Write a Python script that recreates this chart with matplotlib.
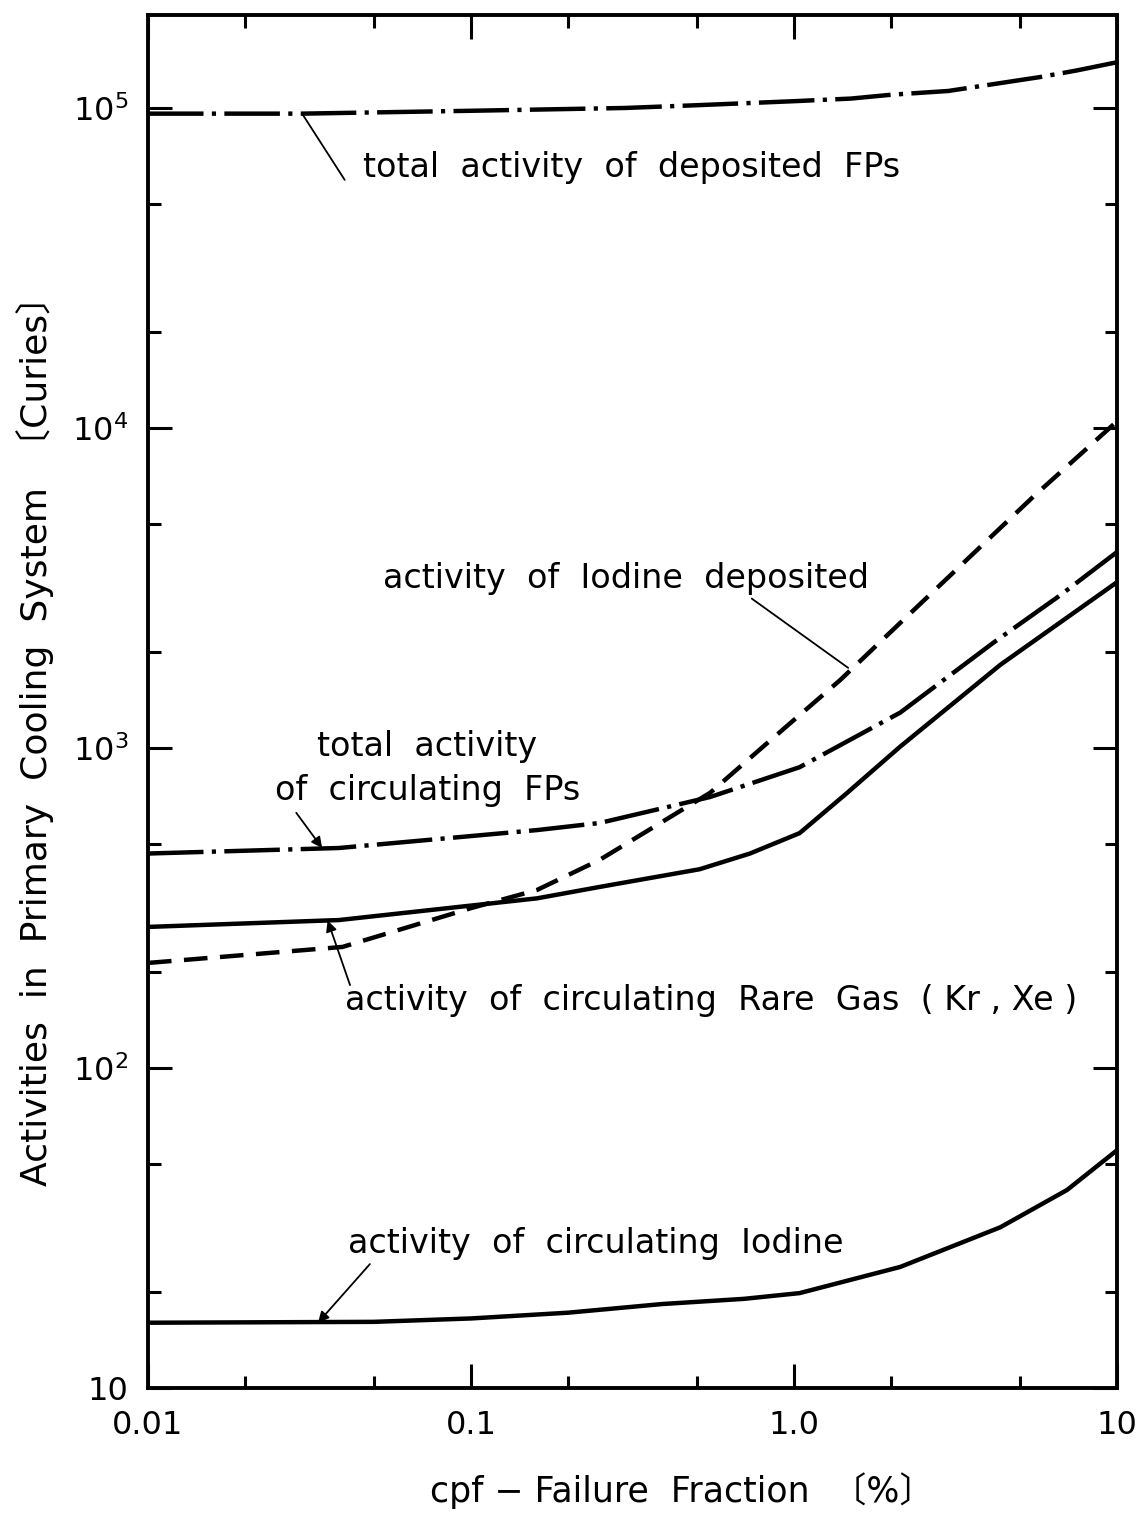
import matplotlib
matplotlib.use("Agg")
import matplotlib.pyplot as plt
from matplotlib.ticker import LogLocator, FixedLocator, FixedFormatter, NullFormatter

plt.rcParams["font.family"] = ["DejaVu Sans", "Noto Sans CJK JP"]
plt.rcParams["lines.scale_dashes"] = False

# values (cpf in %, activity in Curies)
x_dep_fp = [0.01, 0.03, 0.1, 0.3, 0.5, 1.0, 1.5, 2.0, 3.0, 5.8, 7.5, 10.0]
y_dep_fp = [9.6e4, 9.6e4, 9.8e4, 1.0e5, 1.02e5, 1.05e5, 1.07e5, 1.1e5, 1.13e5,
            1.25e5, 1.31e5, 1.39e5]

x_dep_iod = [0.01, 0.04, 0.1, 0.16, 0.25, 0.55, 0.82, 1.39, 2.13, 5.5, 10.0]
y_dep_iod = [213, 239, 316, 360, 447, 725, 1030, 1632, 2460, 6100, 10500]

x_circ_fp = [0.01, 0.039, 0.16, 0.25, 0.55, 1.04, 2.13, 4.13, 6.66, 10.0]
y_circ_fp = [468, 487, 554, 583, 703, 871, 1290, 2130, 3000, 4100]

x_rare = [0.01, 0.039, 0.16, 0.25, 0.51, 0.73, 1.04, 1.45, 2.13, 4.35, 10.0]
y_rare = [276, 290, 339, 368, 418, 468, 542, 720, 1010, 1820, 3300]

x_iod = [0.01, 0.05, 0.1, 0.2, 0.39, 0.7, 1.04, 2.13, 4.35, 7.0, 10.0]
y_iod = [16.0, 16.1, 16.5, 17.2, 18.3, 19.0, 19.8, 23.9, 31.8, 41.6, 55.4]

xtick_vals = [0.01, 0.1, 1.0, 10]
xtick_text = ["0.01", "0.1", "1.0", "10"]
ytick_vals = [10, 100, 1e3, 1e4, 1e5]
ytick_text = ["10", "$10^{2}$", "$10^{3}$", "$10^{4}$", "$10^{5}$"]

fig = plt.figure(figsize=(11.47, 15.15), dpi=100)
ax = fig.add_axes([0.129, 0.0838, 0.845, 0.9062])
ax.set_xscale("log")
ax.set_yscale("log")
ax.set_xlim(0.01, 10)
ax.set_ylim(10, 1.95e5)

lw = 3.2
dashdot = (0, (40, 6, 3, 6))
dashed = (0, (17, 9))
ax.plot(x_dep_fp, y_dep_fp, color="k", lw=lw, linestyle=dashdot)
ax.plot(x_dep_iod, y_dep_iod, color="k", lw=lw, linestyle=dashed)
ax.plot(x_circ_fp, y_circ_fp, color="k", lw=lw, linestyle=dashdot)
ax.plot(x_rare, y_rare, color="k", lw=lw, linestyle="-")
ax.plot(x_iod, y_iod, color="k", lw=lw, linestyle="-")

# ticks
ax.xaxis.set_major_locator(FixedLocator(xtick_vals))
ax.xaxis.set_major_formatter(FixedFormatter(xtick_text))
ax.xaxis.set_minor_locator(LogLocator(base=10, subs=(2.0, 5.0)))
ax.xaxis.set_minor_formatter(NullFormatter())
ax.yaxis.set_major_locator(FixedLocator(ytick_vals))
ax.yaxis.set_major_formatter(FixedFormatter(ytick_text))
ax.yaxis.set_minor_locator(LogLocator(base=10, subs=(2.0, 5.0)))
ax.yaxis.set_minor_formatter(NullFormatter())
ax.tick_params(which="both", direction="in", top=True, right=True, width=2.2)
ax.tick_params(which="major", length=17, labelsize=23)
ax.tick_params(which="minor", length=9)
ax.tick_params(axis="x", which="major", pad=16)
ax.tick_params(axis="y", which="major", pad=14)
for s in ax.spines.values():
    s.set_linewidth(2.8)

ax.set_xlabel("cpf \u2212 Failure  Fraction  \u3014%\u3015", fontsize=25)
ax.xaxis.set_label_coords(0.551, -0.061)
ax.set_ylabel("Activities  in  Primary  Cooling  System  \u3014Curies\u3015",
              fontsize=26)
ax.yaxis.set_label_coords(-0.097, 0.478)

# labels with leader lines
tfs = 24
thin = dict(arrowstyle="-", lw=1.3, color="k", shrinkA=0, shrinkB=0)
head = dict(arrowstyle="-|>", lw=1.3, color="k", shrinkA=0, shrinkB=0,
            mutation_scale=16)

ax.text(0.222, 0.889, "total  activity  of  deposited  FPs", transform=ax.transAxes,
        fontsize=tfs, ha="left", va="center")
ax.annotate("", xy=(0.030, y_dep_fp[1]), xycoords="data",
            xytext=(0.203, 0.880), textcoords="axes fraction", arrowprops=thin)

ax.text(0.2425, 0.590, "activity  of  Iodine  deposited", transform=ax.transAxes,
        fontsize=tfs, ha="left", va="center")
ax.annotate("", xy=(1.47, 1780), xycoords="data",
            xytext=(0.623, 0.575), textcoords="axes fraction", arrowprops=thin)

ax.text(0.174, 0.4676, "total  activity", transform=ax.transAxes,
        fontsize=tfs, ha="left", va="center")
ax.text(0.131, 0.4355, "of  circulating  FPs", transform=ax.transAxes,
        fontsize=tfs, ha="left", va="center")
ax.annotate("", xy=(0.0346, 487), xycoords="data",
            xytext=(0.153, 0.419), textcoords="axes fraction", arrowprops=head)

ax.text(0.203, 0.2826, "activity  of  circulating  Rare  Gas  ( Kr , Xe )",
        transform=ax.transAxes, fontsize=tfs, ha="left", va="center")
ax.annotate("", xy=(0.036, 289), xycoords="data",
            xytext=(0.2085, 0.2935), textcoords="axes fraction", arrowprops=head)

ax.text(0.2064, 0.1056, "activity  of  circulating  Iodine", transform=ax.transAxes,
        fontsize=tfs, ha="left", va="center")
ax.annotate("", xy=(0.0336, 16.0), xycoords="data",
            xytext=(0.229, 0.0903), textcoords="axes fraction", arrowprops=head)

fig.savefig("out.png", dpi=100)
